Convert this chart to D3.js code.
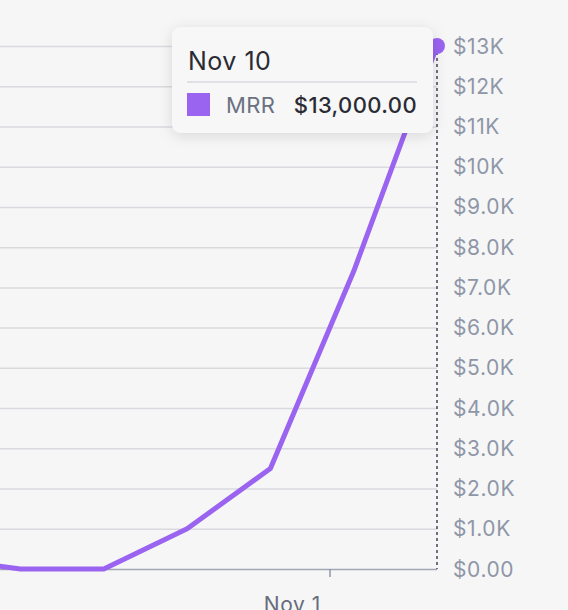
<!DOCTYPE html>
<html>
<head>
<meta charset="utf-8">
<script src="https://cdn.jsdelivr.net/npm/d3@7"></script>
<style>
  html, body { margin: 0; padding: 0; background: #f6f6f7; overflow: hidden; }
  svg { display: block; font-family: Inter, "Noto Sans", sans-serif; }
</style>
</head>
<body>
<div id="chart"></div>
<script>
// weekly MRR points
const DATES = ["2019-09-29", "2019-10-06", "2019-10-13", "2019-10-20", "2019-10-27", "2019-11-03", "2019-11-10"];
const MRR = [280, 0, 0, 1000, 2500, 7400, 13000];

const Y_TICKS = [0, 1000, 2000, 3000, 4000, 5000, 6000, 7000, 8000, 9000, 10000, 11000, 12000, 13000];
const Y_TICK_LABELS = ["$0.00", "$1.0K", "$2.0K", "$3.0K", "$4.0K", "$5.0K", "$6.0K", "$7.0K", "$8.0K", "$9.0K", "$10K", "$11K", "$12K", "$13K"];
const X_TICKS = ["2019-11-01"];
const X_TICK_LABELS = ["Nov 1"];

const TOOLTIP_TITLE = "Nov 10";
const TOOLTIP_SERIES = "MRR";
const TOOLTIP_VALUE = "$13,000.00";

const PURPLE = "#9a64f0";

var width = 568, height = 610;
var plot = {right: 437, top: 46, bottom: 569};
var dayPx = 11.9;

var parse = d3.timeParse("%Y-%m-%d");
var data = DATES.map(function(d, i) { return {date: parse(d), value: MRR[i]}; });

var first = data[0].date, last = data[data.length - 1].date;
var days = d3.timeDay.count(first, last);

var x = d3.scaleTime()
  .domain([first, last])
  .range([plot.right - days * dayPx, plot.right]);

var y = d3.scaleLinear()
  .domain([0, 13000])
  .range([plot.bottom, plot.top]);

var svg = d3.select("#chart")
  .append("svg")
  .attr("width", width)
  .attr("height", height);

var defs = svg.append("defs");
var shadow = defs.append("filter")
  .attr("id", "shadow")
  .attr("x", "-20%").attr("y", "-30%")
  .attr("width", "140%").attr("height", "170%");
shadow.append("feDropShadow")
  .attr("dx", 0).attr("dy", 3)
  .attr("stdDeviation", 7)
  .attr("flood-color", "#000")
  .attr("flood-opacity", 0.12);

// gridlines
svg.append("g").selectAll("line")
  .data(Y_TICKS.slice(1))
  .enter()
  .append("line")
  .attr("x1", 0)
  .attr("x2", plot.right)
  .attr("y1", function(d) { return y(d) + 0.5; })
  .attr("y2", function(d) { return y(d) + 0.5; })
  .attr("stroke", "#d9dade")
  .attr("stroke-width", 1.5);

// y labels on the right
svg.append("g").selectAll("text")
  .data(Y_TICKS)
  .enter()
  .append("text")
  .text(function(d, i) { return Y_TICK_LABELS[i]; })
  .attr("x", 453)
  .attr("y", function(d) { return y(d); })
  .attr("dy", "0.36em")
  .style("font-size", "21px")
  .style("letter-spacing", "0.6px")
  .style("fill", "#8f97a7");

// x axis baseline and ticks
svg.append("line")
  .attr("x1", 0)
  .attr("x2", plot.right)
  .attr("y1", plot.bottom + 0.5)
  .attr("y2", plot.bottom + 0.5)
  .attr("stroke", "#a0a6b3")
  .attr("stroke-width", 1.5);

var xTicks = svg.append("g").selectAll("g")
  .data(X_TICKS)
  .enter()
  .append("g")
  .attr("transform", function(d) { return "translate(" + Math.round(x(parse(d))) + ",0)"; });

xTicks.append("line")
  .attr("y1", plot.bottom)
  .attr("y2", plot.bottom + 8)
  .attr("stroke", "#8f97a7")
  .attr("stroke-width", 1.5);

xTicks.append("text")
  .text(function(d, i) { return X_TICK_LABELS[i]; })
  .attr("x", -9)
  .attr("y", plot.bottom + 43)
  .style("text-anchor", "end")
  .style("font-size", "21px")
  .style("letter-spacing", "0.6px")
  .style("fill", "#666c7a");

// hover guide
var lastPoint = data[data.length - 1];
svg.append("line")
  .attr("x1", x(lastPoint.date))
  .attr("x2", x(lastPoint.date))
  .attr("y1", y(lastPoint.value))
  .attr("y2", plot.bottom)
  .attr("stroke", "#6b7180")
  .attr("stroke-width", 2)
  .attr("stroke-dasharray", "3,3");

// the line
var line = d3.line()
  .x(function(d) { return x(d.date); })
  .y(function(d) { return y(d.value); });

svg.append("path")
  .datum(data)
  .attr("d", line)
  .attr("fill", "none")
  .attr("stroke", PURPLE)
  .attr("stroke-width", 5)
  .attr("stroke-linejoin", "round");

svg.append("circle")
  .attr("cx", x(lastPoint.date))
  .attr("cy", y(lastPoint.value))
  .attr("r", 8)
  .attr("fill", PURPLE);

// tooltip
var tip = svg.append("g").attr("transform", "translate(172,27)");

tip.append("rect")
  .attr("width", 261)
  .attr("height", 106)
  .attr("rx", 9)
  .attr("fill", "#f7f7f8")
  .attr("filter", "url(#shadow)");

tip.append("text")
  .text(TOOLTIP_TITLE)
  .attr("x", 16)
  .attr("y", 43)
  .style("font-size", "25px")
  .style("letter-spacing", "0.5px")
  .style("fill", "#2a2b33");

tip.append("line")
  .attr("x1", 15)
  .attr("x2", 245)
  .attr("y1", 55)
  .attr("y2", 55)
  .attr("stroke", "#d9dade")
  .attr("stroke-width", 1.5);

tip.append("rect")
  .attr("x", 15)
  .attr("y", 66)
  .attr("width", 23)
  .attr("height", 23)
  .attr("fill", PURPLE);

tip.append("text")
  .text(TOOLTIP_SERIES)
  .attr("x", 54)
  .attr("y", 86)
  .style("font-size", "22px")
  .style("letter-spacing", "0.4px")
  .style("fill", "#6b7180");

tip.append("text")
  .text(TOOLTIP_VALUE)
  .attr("x", 245)
  .attr("y", 86)
  .style("text-anchor", "end")
  .style("font-size", "22px")
  .style("letter-spacing", "0.4px")
  .style("font-weight", 500)
  .style("fill", "#2a2b33");
</script>
</body>
</html>
